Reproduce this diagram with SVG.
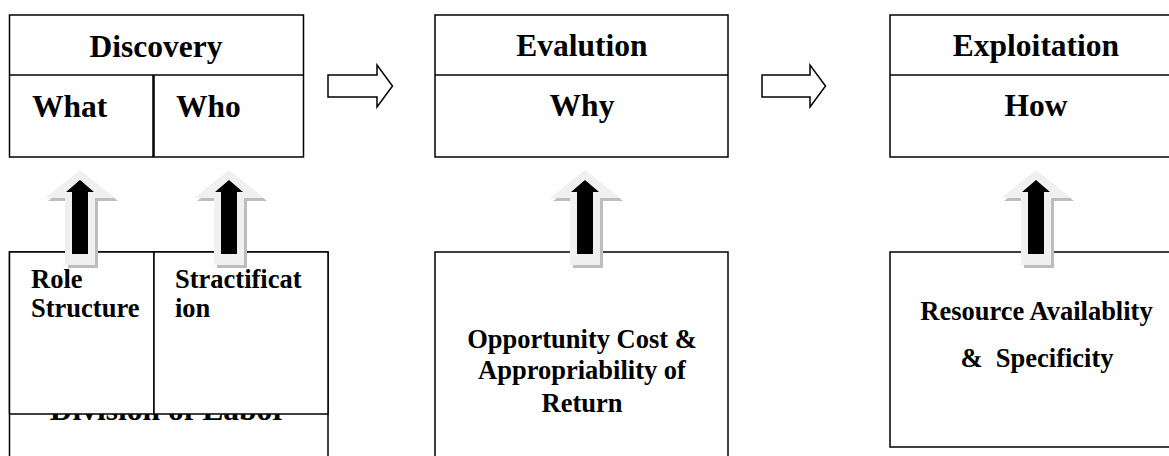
<svg xmlns="http://www.w3.org/2000/svg" width="1169" height="456" viewBox="0 0 1169 456">
<style>
.box{fill:#fff;stroke:#000;stroke-width:1.5}
.ln{stroke:#000;stroke-width:1.5;fill:none}
.h{font-family:"Liberation Serif","Times New Roman",serif;font-weight:bold;font-size:31.5px;fill:#000}
.t{font-family:"Liberation Serif","Times New Roman",serif;font-weight:bold;font-size:26.5px;fill:#000}
.mid{text-anchor:middle}
.flow{fill:#fff;stroke:#000;stroke-width:1.5}
.sh{fill:#bdbdbd}
.out{fill:#f0f0f0}
.in{fill:#000}
</style>
<defs>
<g id="uparrow">
<polygon class="sh" points="3,3 38,31 18,31 18,98 -12,98 -12,31 -32,31"/>
<polygon class="out" points="0,0 35,28 15,28 15,95 -15,95 -15,28 -35,28"/>
<polygon class="in" points="0,10 14,22 8,22 8,84 -8,84 -8,22 -14,22"/>
</g>
</defs>
<rect width="1169" height="456" fill="#fff"/>

<g id="discovery">
<rect class="box" x="9.5" y="15" width="294" height="142"/>
<line class="ln" x1="9.5" y1="75" x2="303.5" y2="75"/>
<line x1="153.5" y1="75" x2="153.5" y2="157" stroke="#000" stroke-width="2.5"/>
<text class="h mid" x="156" y="57">Discovery</text>
<text class="h" x="32" y="117">What</text>
<text class="h" x="176" y="117">Who</text>
</g>

<g id="evaluation">
<rect class="box" x="435" y="15" width="293" height="142"/>
<line class="ln" x1="435" y1="75" x2="728" y2="75"/>
<text class="h mid" x="582" y="56">Evalution</text>
<text class="h mid" x="582" y="116">Why</text>
</g>

<g id="exploitation">
<rect class="box" x="890" y="15" width="292" height="142"/>
<line class="ln" x1="890" y1="75" x2="1182" y2="75"/>
<text class="h mid" x="1036" y="56">Exploitation</text>
<text class="h mid" x="1036" y="116">How</text>
</g>

<g id="division">
<rect class="box" x="9.5" y="252" width="318.5" height="230"/>
<text class="h mid" x="168" y="420">Division of Labor</text>
</g>

<g id="role">
<rect class="box" x="9.5" y="252" width="144.5" height="162"/>
<text class="t" x="31" y="288">Role</text>
<text class="t" x="31" y="317">Structure</text>
</g>

<g id="stratification">
<rect class="box" x="154" y="252" width="174" height="162"/>
<text class="t" x="175" y="288">Stractificat</text>
<text class="t" x="175" y="317">ion</text>
</g>

<g id="opportunity">
<rect class="box" x="435" y="252" width="293" height="230"/>
<text class="t mid" x="582" y="348">Opportunity Cost &amp;</text>
<text class="t mid" x="582" y="379">Appropriability of</text>
<text class="t mid" x="582" y="412">Return</text>
</g>

<g id="resource">
<rect class="box" x="890" y="252" width="292" height="195"/>
<text class="t mid" x="1036.5" y="320">Resource Availablity</text>
<text class="t mid" x="1037" y="367" xml:space="preserve">&amp;  Specificity</text>
</g>

<g id="connectors">
<polygon class="flow" points="328,75 377,75 377,65 392.5,86 377,107 377,97 328,97"/>
<polygon class="flow" points="762,75 810,75 810,65 825.5,86 810,107 810,97 762,97"/>
<use href="#uparrow" x="80" y="170"/>
<use href="#uparrow" x="229" y="170"/>
<use href="#uparrow" x="585" y="170"/>
<use href="#uparrow" x="1036" y="170"/>
</g>
</svg>
